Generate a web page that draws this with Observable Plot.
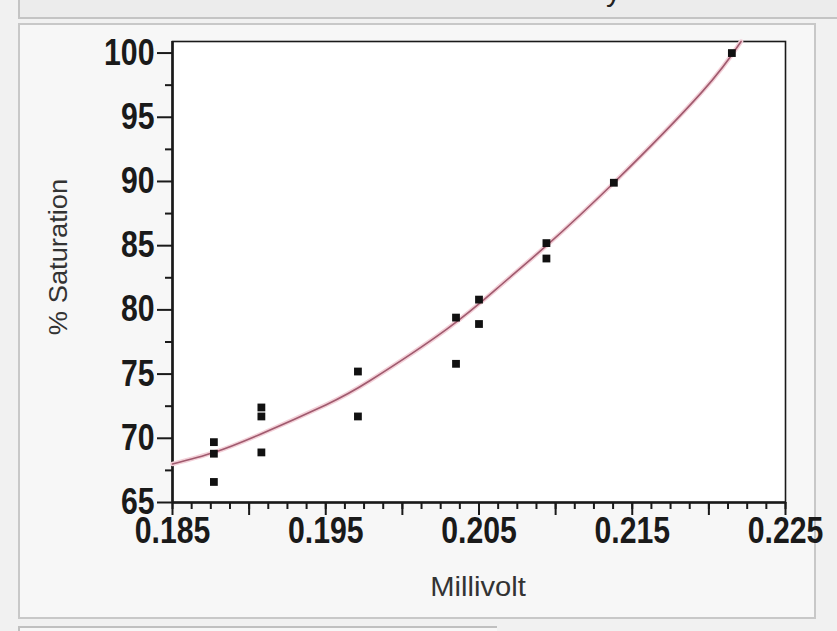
<!DOCTYPE html>
<html>
<head>
<meta charset="utf-8">
<script src="https://cdn.jsdelivr.net/npm/d3@7"></script>
<script src="https://cdn.jsdelivr.net/npm/@observablehq/plot@0.6"></script>
<style>
  html, body { margin: 0; padding: 0; }
  body { width: 837px; height: 631px; background: #f1f1f1; position: relative; overflow: hidden;
         font-family: "Liberation Sans", Arial, sans-serif; }
  #topstrip { position: absolute; left: 18px; top: 0; width: 819px; height: 17px; background: #ececec;
              border-bottom: 2px solid #c4c4c4; border-left: 2px solid #c4c4c4; overflow: hidden; }
  #topstrip span { position: absolute; left: 586px; top: -26px; font-size: 30px; color: #222; }
  #panel { position: absolute; left: 18px; top: 23px; width: 798px; height: 596px; background: #f7f7f7;
           border: 2px solid #c8c8c8; box-sizing: border-box; }
  #lowerbox { position: absolute; left: 18px; top: 626px; width: 477px; height: 10px; background: #f7f7f7;
              border-top: 2px solid #c0c0c0; border-left: 2px solid #c0c0c0; }
  #chart { position: absolute; left: 0; top: 0; }
  .ylab { position: absolute; left: 58px; top: 257px; transform: translate(-50%, -50%) rotate(-90deg) scaleX(1.05);
          font-size: 26px; color: #333; white-space: nowrap; }
  .xlab { position: absolute; left: 478px; top: 587px; transform: translate(-50%, -50%) scaleX(1.08);
          font-size: 27px; color: #333; white-space: nowrap; }
</style>
</head>
<body>
<div id="topstrip"><span>y</span></div>
<div id="panel"></div>
<div id="lowerbox"></div>
<div id="chart"></div>
<div class="ylab">% Saturation</div>
<div class="xlab">Millivolt</div>
<script>
// Observed points (Millivolt, % Saturation)
const millivolt  = [0.1877, 0.1877, 0.1877, 0.1908, 0.1908, 0.1908, 0.1971, 0.1971, 0.2035, 0.2035, 0.2050, 0.2050, 0.2094, 0.2094, 0.2138, 0.2215];
const saturation = [69.7,   68.8,   66.6,   72.4,   71.7,   68.9,   75.2,   71.7,   75.8,   79.4,   80.8,   78.9,   85.2,   84.0,   89.9,   100.0];

// Fitted curve
const fitMillivolt  = [0.1850, 0.1877, 0.1907, 0.1950, 0.1979, 0.2029, 0.2064, 0.2094, 0.2138, 0.2195, 0.2221];
const fitSaturation = [68.0,   68.9,   70.3,   72.6,   74.5,   78.5,   81.9,   85.0,   89.9,   96.9,   100.9];

// Axis ticks
const xMajorTicks  = [0.185, 0.195, 0.205, 0.215, 0.225];
const xMediumTicks = [0.190, 0.200, 0.210, 0.220];
const xMinorTicks  = d3.range(0, 33).map(i => +(0.185 + i * 0.00125).toFixed(5));
const yMajorTicks  = [65, 70, 75, 80, 85, 90, 95, 100];
const yMinorTicks  = [67.5, 72.5, 77.5, 82.5, 87.5, 92.5, 97.5];

const points = millivolt.map((m, i) => ({m, s: saturation[i]}));
const fit = fitMillivolt.map((m, i) => ({m, s: fitSaturation[i]}));

const chart = Plot.plot({
  width: 837,
  height: 631,
  marginLeft: 172,
  marginRight: 52,
  marginTop: 41,
  marginBottom: 129,
  style: { background: "transparent", fontFamily: "Liberation Sans, Arial, sans-serif", color: "#1a1a1a", overflow: "visible" },
  x: { domain: [0.185, 0.225] },
  y: { domain: [65, 100.9] },
  marks: [
    Plot.frame({ fill: "white", stroke: "#1a1a1a", strokeWidth: 1.6 }),
    // minor / medium x ticks
    Plot.axisX({ ticks: xMinorTicks, tickSize: 7, tickFormat: () => "", strokeWidth: 2, label: null }),
    Plot.axisX({ ticks: xMediumTicks, tickSize: 13, tickFormat: () => "", strokeWidth: 2, label: null }),
    Plot.axisX({ ticks: xMajorTicks, tickSize: 13, tickPadding: 2, tickFormat: d3.format(".3f"),
                 strokeWidth: 2, label: null, fontSize: 36, fontWeight: "bold", className: "ticklab" }),
    Plot.axisY({ ticks: yMinorTicks, tickSize: 7, tickFormat: () => "", strokeWidth: 2, label: null }),
    Plot.axisY({ ticks: yMajorTicks, tickSize: 15, tickPadding: 3, strokeWidth: 2, label: null,
                 fontSize: 36, fontWeight: "bold", className: "ticklab" }),
    Plot.ruleX([0.185], { stroke: "#1a1a1a", strokeWidth: 2.6 }),
    Plot.ruleY([65], { stroke: "#1a1a1a", strokeWidth: 2.6 }),
    // fitted curve
    Plot.line(fit, { x: "m", y: "s", curve: "natural", stroke: "#f3d0d8", strokeWidth: 4.5 }),
    Plot.line(fit, { x: "m", y: "s", curve: "natural", stroke: "#a05a6e", strokeWidth: 1.6 }),
    // observations
    Plot.dot(points, { x: "m", y: "s", symbol: "square", r: 4.4, fill: "#111", stroke: "none" })
  ]
});
document.getElementById("chart").appendChild(chart);

// Condense the bold tick labels horizontally, like the reference's narrow face
chart.querySelectorAll('[aria-label="x-axis tick label"] text, [aria-label="y-axis tick label"] text').forEach(t => {
  if (!t.textContent) return;
  const w = t.getComputedTextLength();
  t.setAttribute("textLength", (w * 0.84).toFixed(1));
  t.setAttribute("lengthAdjust", "spacingAndGlyphs");
});
</script>
</body>
</html>
